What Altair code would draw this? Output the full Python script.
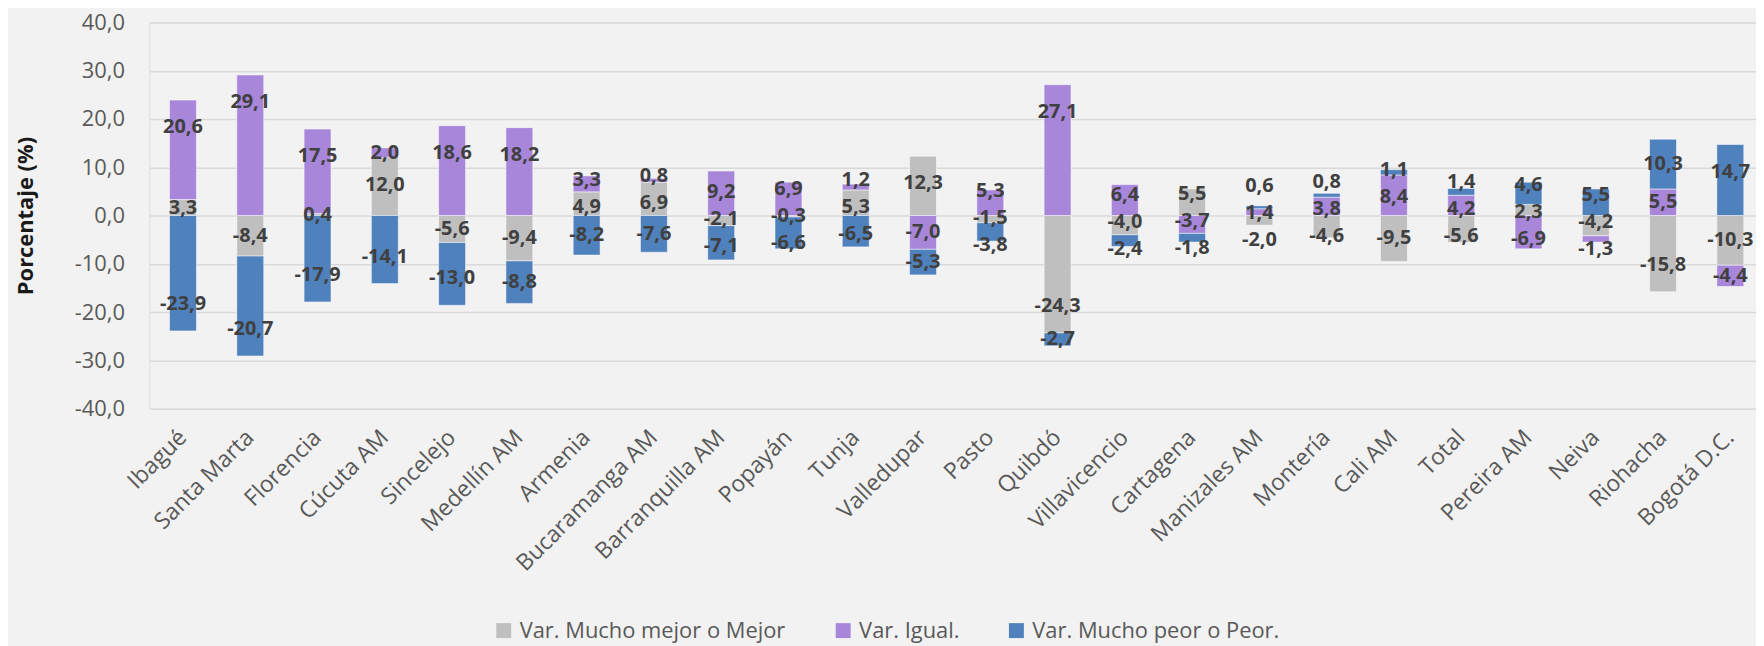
import altair as alt
import pandas as pd

cities = ["Ibagué", "Santa Marta", "Florencia", "Cúcuta AM", "Sincelejo", "Medellín AM",
          "Armenia", "Bucaramanga AM", "Barranquilla AM", "Popayán", "Tunja", "Valledupar",
          "Pasto", "Quibdó", "Villavicencio", "Cartagena", "Manizales AM", "Montería",
          "Cali AM", "Total", "Pereira AM", "Neiva", "Riohacha", "Bogotá D.C."]

mejor = [3.3, -8.4, 0.4, 12.0, -5.6, -9.4, 4.9, 6.9, -2.1, -0.3, 5.3, 12.3,
         -1.5, -24.3, -4.0, 5.5, -2.0, -4.6, -9.5, -5.6, 2.3, -4.2, -15.8, -10.3]
igual = [20.6, 29.1, 17.5, 2.0, 18.6, 18.2, 3.3, 0.8, 9.2, 6.9, 1.2, -7.0,
         5.3, 27.1, 6.4, -3.7, 1.4, 3.8, 8.4, 4.2, -6.9, -1.3, 5.5, -4.4]
peor = [-23.9, -20.7, -17.9, -14.1, -13.0, -8.8, -8.2, -7.6, -7.1, -6.6, -6.5, -5.3,
        -3.8, -2.7, -2.4, -1.8, 0.6, 0.8, 1.1, 1.4, 4.6, 5.5, 10.3, 14.7]

series_names = ["Var. Mucho mejor o Mejor", "Var. Igual.", "Var. Mucho peor o Peor."]
colors = ["#BFBFBF", "#A886D9", "#4F81BD"]
y_ticks = [-40, -30, -20, -10, 0, 10, 20, 30, 40]

END_OFFSET = 5.6   # label sits this far (in % units) inside the segment end
MIN_GAP = 5.6      # minimum vertical distance between labels of one bar


def spread(positions, gap):
    """Push label positions of one bar apart so they do not overlap."""
    idx = sorted(range(len(positions)), key=lambda j: positions[j])
    p = [positions[j] for j in idx]
    for _ in range(300):
        moved = False
        for a in range(len(p) - 1):
            d = p[a + 1] - p[a]
            if d < gap - 1e-6:
                shift = (gap - d) / 2
                p[a] -= shift
                p[a + 1] += shift
                moved = True
        if not moved:
            break
    out = [0.0] * len(positions)
    for k, j in enumerate(idx):
        out[j] = p[k]
    return out


rows = []
for i, c in enumerate(cities):
    pos, neg = 0.0, 0.0
    bar_rows = []
    for k, (name, vals) in enumerate(zip(series_names, [mejor, igual, peor])):
        v = vals[i]
        if v >= 0:
            end = pos + v
            pos = end
            sign = 1
        else:
            end = neg + v
            neg = end
            sign = -1
        ly = end - sign * min(abs(v) / 2, END_OFFSET)
        txt = ("-" if v < 0 else "") + f"{abs(v):.1f}".replace(".", ",")
        bar_rows.append(dict(city=c, serie=name, orden=k, value=v, label_y=ly, label=txt))
    new_y = spread([r["label_y"] for r in bar_rows], MIN_GAP)
    for r, y in zip(bar_rows, new_y):
        r["label_y"] = y
        rows.append(r)
df = pd.DataFrame(rows)

FONT = "Open Sans"

x_enc = alt.X(
    "city:N", sort=cities,
    scale=alt.Scale(paddingInner=0.6, paddingOuter=0.3, range=[0, 1622]),
    axis=alt.Axis(title=None, labelAngle=-45, labelAlign="right", labelBaseline="middle",
                  labelPadding=25, labelFontSize=23, labelColor="#595959",
                  domain=False, ticks=False, grid=False, labelOverlap=False, labelFont=FONT,
                  labelLimit=0),
)

bars = alt.Chart(df).mark_bar(stroke="white", strokeWidth=1, strokeOpacity=0.5).encode(
    x=x_enc,
    y=alt.Y(
        "value:Q", stack="zero",
        scale=alt.Scale(domain=[-40, 40], nice=False),
        axis=alt.Axis(
            values=y_ticks,
            labelExpr="(datum.value < 0 ? '-' : '') + replace(format(abs(datum.value), '.1f'), '.', ',')",
            grid=True, gridColor="#D9D9D9", gridWidth=1.5, domain=False, ticks=False,
            labelPadding=25, labelFontSize=22, labelColor="#595959", labelFont=FONT,
            title="Porcentaje (%)", titleFontSize=22, titleFontWeight="bold",
            titleColor="#1a1a1a", titleFont=FONT, titleX=-124, titleY=194,
            titleAngle=-90, titleAlign="center", titleBaseline="middle",
        ),
    ),
    color=alt.Color(
        "serie:N", sort=series_names,
        scale=alt.Scale(domain=series_names, range=colors),
        legend=alt.Legend(
            orient="none", legendX=345, legendY=600, direction="horizontal", title=None,
            symbolType="square", symbolSize=225, symbolStrokeWidth=0,
            labelFontSize=22, labelColor="#595959", labelFont=FONT, labelLimit=0,
            columnPadding=46, labelOffset=5, padding=0,
        ),
    ),
    order=alt.Order("orden:Q"),
)

labels = alt.Chart(df).mark_text(
    fontWeight="bold", fontSize=20, color="#404040", font=FONT
).encode(
    x=alt.X("city:N", sort=cities),
    y=alt.Y("label_y:Q"),
    text="label:N",
)

chart = alt.layer(bars, labels).properties(
    width=1614, height=388,
    autosize=alt.AutoSizeParams(type="none"),
    padding={"left": 142, "top": 13, "right": 0, "bottom": 237},
    background="#F2F2F2",
).configure_view(strokeWidth=0).configure(font=FONT)

chart.save("out.html", embed_options={"renderer": "svg", "actions": False})
